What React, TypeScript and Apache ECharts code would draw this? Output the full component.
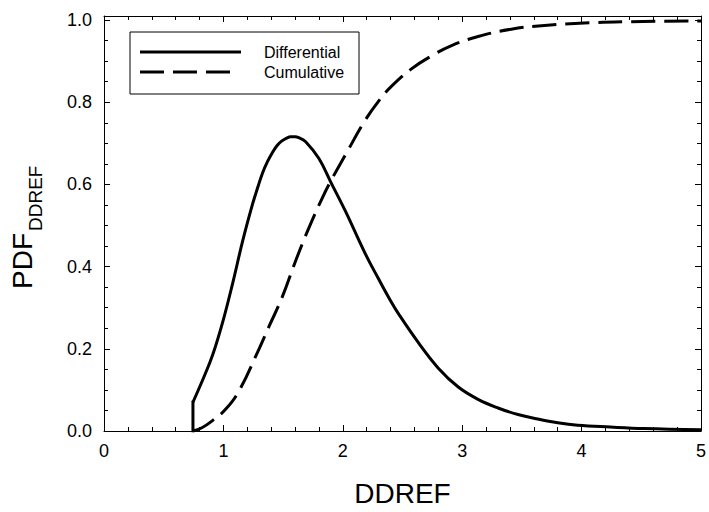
import React, { useEffect, useRef } from "react";
import * as echarts from "echarts";

const diffX = [0.745, 0.745, 0.842, 0.911, 0.994, 1.078, 1.161, 1.244, 1.29, 1.328, 1.37, 1.411, 1.45, 1.49, 1.53, 1.564, 1.6, 1.63, 1.689, 1.8, 1.897, 2.022, 2.189, 2.3, 2.4, 2.467, 2.633, 2.8, 2.967, 3.133, 3.3, 3.467, 3.633, 3.8, 3.967, 4.24, 4.52, 5.0];
const diffY = [0, 0.07, 0.135, 0.186, 0.265, 0.36, 0.462, 0.552, 0.595, 0.628, 0.656, 0.678, 0.695, 0.706, 0.713, 0.716, 0.716, 0.714, 0.704, 0.663, 0.607, 0.535, 0.431, 0.37, 0.317, 0.285, 0.215, 0.153, 0.107, 0.077, 0.056, 0.04, 0.029, 0.02, 0.014, 0.0096, 0.006, 0.003];

const cumX = [0.745, 0.82, 0.911, 1.022, 1.133, 1.272, 1.383, 1.494, 1.606, 1.717, 1.828, 1.897, 2.022, 2.189, 2.3, 2.411, 2.578, 2.744, 2.911, 3.133, 3.411, 3.689, 4.022, 4.383, 5.0];
const cumY = [0, 0.008, 0.026, 0.054, 0.099, 0.183, 0.255, 0.327, 0.415, 0.495, 0.567, 0.607, 0.672, 0.757, 0.803, 0.84, 0.882, 0.913, 0.938, 0.96, 0.978, 0.987, 0.993, 0.996, 0.998];

const xTicks = ["0", "1", "2", "3", "4", "5"];
const yTicks = ["0.0", "0.2", "0.4", "0.6", "0.8", "1.0"];
const seriesNames = ["Differential", "Cumulative"];
const xTitle = "DDREF";
const yTitleMain = "PDF";
const yTitleSub = "DDREF";

const FONT = "'Liberation Sans', Arial, sans-serif";

export default function App() {
  const ref = useRef<HTMLDivElement>(null);
  useEffect(() => {
    if (!ref.current) return;
    const chart = echarts.init(ref.current, null, { renderer: "svg" });
    const lineCol = "#000";
    const tickCommon = {
      axisLine: { show: true, onZero: false, lineStyle: { color: lineCol, width: 1 } },
      axisTick: { show: true, inside: true, length: 6, lineStyle: { color: lineCol, width: 1 } },
      minorTick: { show: true, length: 4, lineStyle: { color: lineCol, width: 1 } },
      splitLine: { show: false },
    };
    const xAxisBase = {
      type: "value" as const,
      min: 0,
      max: 5,
      interval: 1,
      ...tickCommon,
      minorTick: { ...tickCommon.minorTick, splitNumber: 5 },
    };
    const yAxisBase = {
      type: "value" as const,
      min: 0,
      max: 1.01,
      interval: 0.2,
      ...tickCommon,
      minorTick: { ...tickCommon.minorTick, splitNumber: 4 },
    };
    const diffPts = diffX.map((x, i) => [x, diffY[i]]);
    chart.setOption({
      animation: false,
      backgroundColor: "#fff",
      grid: { left: 104, right: 5, top: 16, bottom: 76, containLabel: false },
      xAxis: [
        {
          ...xAxisBase,
          position: "bottom",
          axisLabel: {
            show: true,
            fontSize: 18,
            color: "#000",
            fontFamily: FONT,
            margin: 11,
            formatter: (v: number) => {
              const i = Math.round(v);
              return Math.abs(v - i) < 1e-6 && i >= 0 && i < xTicks.length ? xTicks[i] : "";
            },
          },
          name: xTitle,
          nameLocation: "middle",
          nameGap: 48,
          nameTextStyle: { fontSize: 28, color: "#000", fontFamily: FONT },
        },
        {
          ...xAxisBase,
          position: "top",
          axisLabel: { show: false },
        },
      ],
      yAxis: [
        {
          ...yAxisBase,
          position: "left",
          axisLabel: {
            show: true,
            fontSize: 18,
            color: "#000",
            fontFamily: FONT,
            margin: 12,
            showMaxLabel: false,
            formatter: (v: number) => {
              const i = Math.round(v / 0.2);
              return Math.abs(v - i * 0.2) < 1e-6 && i >= 0 && i < yTicks.length ? yTicks[i] : "";
            },
          },
        },
        {
          ...yAxisBase,
          position: "right",
          axisLabel: { show: false },
        },
      ],
      series: [
        {
          name: seriesNames[0],
          type: "line",
          xAxisIndex: 0,
          yAxisIndex: 0,
          data: diffPts.slice(0, 2),
          showSymbol: false,
          smooth: false,
          lineStyle: { color: "#000", width: 3, cap: "square" },
          z: 3,
        },
        {
          name: seriesNames[0],
          type: "line",
          xAxisIndex: 0,
          yAxisIndex: 0,
          data: diffPts.slice(1),
          showSymbol: false,
          smooth: 0.4,
          lineStyle: { color: "#000", width: 3 },
          z: 3,
        },
        {
          name: seriesNames[1],
          type: "line",
          xAxisIndex: 0,
          yAxisIndex: 0,
          data: cumX.map((x, i) => [x, cumY[i]]),
          showSymbol: false,
          smooth: 0.45,
          lineStyle: { color: "#000", width: 3, type: [24, 9], cap: "butt" },
          z: 3,
        },
      ],
      graphic: [
        {
          type: "group",
          x: 22,
          y: 228,
          rotation: Math.PI / 2,
          children: [
            {
              type: "text",
              x: -5,
              y: 0,
              style: { text: yTitleMain, fontSize: 28, fill: "#000", fontFamily: FONT, align: "right", verticalAlign: "middle" },
            },
            {
              type: "text",
              x: -3,
              y: 13,
              style: { text: yTitleSub, fontSize: 19, fill: "#000", fontFamily: FONT, align: "left", verticalAlign: "middle" },
            },
          ],
        },
        {
          type: "group",
          z: 100,
          children: [
            {
              type: "rect",
              shape: { x: 130, y: 32, width: 229, height: 62 },
              style: { fill: "#fff", stroke: "#000", lineWidth: 1 },
            },
            {
              type: "line",
              shape: { x1: 140, y1: 52, x2: 241, y2: 52 },
              style: { stroke: "#000", lineWidth: 3 },
            },
            {
              type: "line",
              shape: { x1: 140, y1: 72, x2: 230, y2: 72 },
              style: { stroke: "#000", lineWidth: 3, lineDash: [24, 9] },
            },
            {
              type: "text",
              x: 264,
              y: 52,
              style: { text: seriesNames[0], fontSize: 16, fill: "#000", fontFamily: FONT, verticalAlign: "middle" },
            },
            {
              type: "text",
              x: 264,
              y: 72,
              style: { text: seriesNames[1], fontSize: 16, fill: "#000", fontFamily: FONT, verticalAlign: "middle" },
            },
          ],
        },
      ],
    });
    return () => chart.dispose();
  }, []);
  return (
    <div
      ref={ref}
      style={{ position: "absolute", left: 0, top: 0, width: 709, height: 512 }}
    />
  );
}
